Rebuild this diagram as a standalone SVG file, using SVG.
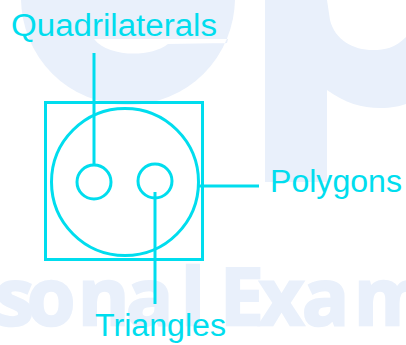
<svg xmlns="http://www.w3.org/2000/svg" width="406" height="345" viewBox="0 0 406 345">
<style>
.wm{fill:#E9F0FB;stroke:none}
.wmt{font-family:"Open Sans","Liberation Sans",sans-serif;font-weight:700;font-size:78px;fill:#E9F0FB;stroke:#E9F0FB;stroke-width:2.5}
.shape{fill:none;stroke:#00DDEE;stroke-width:3}
.lbl{font-family:"Liberation Sans",Arial,sans-serif;font-size:31px;fill:#00DDEE}
</style>
<rect width="406" height="345" fill="#FFFFFF"/>
<g id="watermark">
<path class="wm" fill-rule="evenodd" d="M 21 -2 A 107 107 0 0 0 235 -2 Z M 94 39 C 108 57 150 58 168 44 L 227 43 L 228 39 Z"/>
<path class="wm" d="M 265 0 L 406 0 L 406 37 C 395 48 385 50 373 50 C 353 50 335 40 330 20 L 327 0 L 327 90 C 345 103 362 108 380 108 C 392 108 400 106 406 104 L 406 0 Z M 265 0 L 327 0 L 327 182 L 265 182 Z"/>
<text class="wmt" y="325"><tspan x="-5">s</tspan><tspan x="27">o</tspan><tspan x="78">n</tspan><tspan x="126">a</tspan><tspan x="181">l</tspan><tspan x="220">E</tspan><tspan x="259">x</tspan><tspan x="302">a</tspan><tspan x="354">m</tspan></text>
</g>
<g id="polygons-box">
<rect class="shape" x="45.5" y="102.5" width="157" height="157"/>
</g>
<g id="big-circle">
<circle class="shape" cx="125" cy="182" r="73.5"/>
</g>
<g id="quad-circle">
<circle class="shape" cx="94" cy="182" r="17"/>
</g>
<g id="tri-circle">
<circle class="shape" cx="155" cy="181" r="17"/>
</g>
<g id="connectors">
<line class="shape" x1="94" y1="53" x2="94" y2="165"/>
<line class="shape" x1="155" y1="192" x2="155" y2="304"/>
<line class="shape" x1="199" y1="186" x2="259" y2="186"/>
</g>
<g id="label-quadrilaterals">
<text class="lbl" x="11" y="35.5" textLength="206" lengthAdjust="spacingAndGlyphs">Quadrilaterals</text>
</g>
<g id="label-polygons">
<text class="lbl" x="270" y="191.5" textLength="132" lengthAdjust="spacingAndGlyphs">Polygons</text>
</g>
<g id="label-triangles">
<text class="lbl" x="95" y="335.5" textLength="131" lengthAdjust="spacingAndGlyphs">Triangles</text>
</g>
</svg>
